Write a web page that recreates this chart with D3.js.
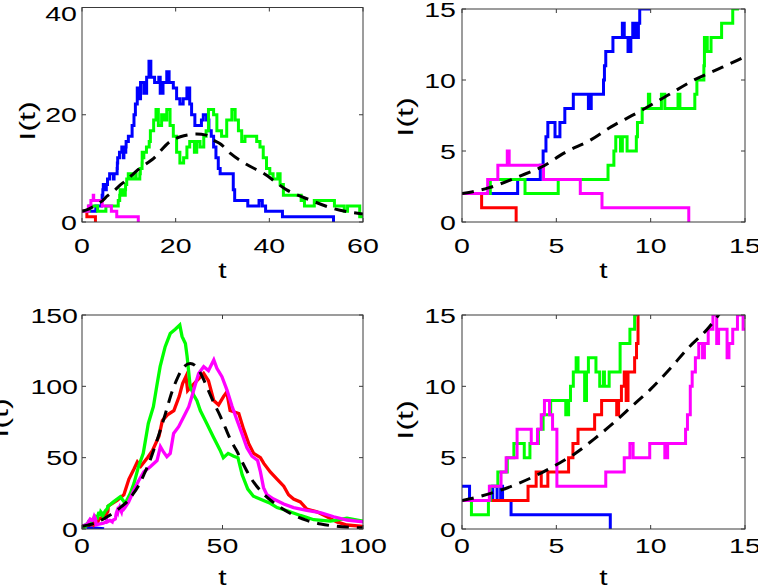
<!DOCTYPE html>
<html>
<head>
<meta charset="utf-8">
<script src="https://cdn.jsdelivr.net/npm/d3@7"></script>
<style>
  body { margin: 0; background: #fff; }
  svg { display: block; }
  text { font-family: "Liberation Sans", Arial, Helvetica, sans-serif; fill: #000; }
</style>
</head>
<body>
<svg id="chart" width="758" height="586"></svg>
<script>
// - - - - - - - - - -
// realisations of the small epidemic (top row, panel 2 is the zoom of panel 1)
// - - - - - - - - - -
const topBlue = [[0,2],[2.95,3],[4.15,4],[4.3,5],[4.45,6],[4.55,7],[4.93,6],[5.19,7],[5.45,8],[5.9,9],[6.7,8],[6.85,9],
  [7.5,10],[7.55,11],[7.62,12],[8.0,13],[8.5,14],[8.6,13],[8.8,12],[8.95,13],[9.05,14],[9.2,13],[9.35,14],[9.42,15],
  [9.9,16],[10.7,18],[11.1,20],[11.4,22],[11.8,25],[12.2,23],[12.5,26],[13.2,24],[13.8,27],[14.3,30],[14.7,27],
  [15.5,26],[16.4,27],[16.7,24],[17.3,26],[18.1,28],[18.6,26],[19.5,25],[20.2,23],[20.9,22],[21.6,23],[22.4,25],
  [23,22],[23.4,20],[24.1,18],[25.5,19],[25.9,20],[26.6,19],[27.1,17],[27.6,16],[28.1,14],[28.6,12],[29.1,10],
  [29.5,9],[32.3,6],[32.6,4],[35.4,3],[37.8,4],[38.5,3],[39.2,2],[42.8,1],[53.7,0]];
const topGreen = [[0,2],[1.5,3],[3.34,2],[5.1,3],[7.74,4],[8.05,5],[8.15,6],[8.4,5],[8.5,6],[8.75,5],[9.24,6],[9.3,7],
  [9.55,8],[9.88,9],[9.95,8],[10.57,9],[10.75,8],[11.45,9],[11.55,8],[12.34,9],[12.45,10],[12.82,11],[12.85,13],
  [13.0,12],[13.2,13],[13.76,14],[14.35,15],[14.6,17],[15.3,19],[15.8,21],[16.3,18],[17,20],[17.5,19],[18.1,21],
  [18.8,18],[19.5,16],[20.2,13],[20.9,11],[21.7,12],[22.4,14],[23,15],[24,13],[24.5,15],[25.2,14],[26,16],[26.5,17],
  [27,21],[28.1,20],[28.8,17],[29.8,16],[30.9,19],[32,21],[32.7,19],[33.4,17],[34.1,15],[34.8,16],[37.3,15],[38,14],
  [38.7,12],[39.4,10],[40.1,9],[40.8,8],[41.8,9],[42.3,7],[43,5],[46.8,4],[47.5,3],[49.6,4],[53.9,3],[56,2],[56.7,3],
  [59.3,1],[60,1]];
const topRed = [[0,2],[1.04,1],[2.87,0]];
const topMagenta = [[0,2],[1.36,3],[1.9,4],[2.4,5],[2.5,4],[4.32,3],[6.27,2],[7.42,1],[12.02,0]];
const topMean = [[0,2],[1.4,2.4],[3,3.2],[4.4,4],[5.4,4.85],[6.85,5.8],[7.9,6.7],[9.3,7.7],[10.75,8.8],[12.3,10],
  [13.8,10.9],[15,11.65],[18.8,15],[21,15.9],[24.5,16.4],[26.5,16.2],[28,15.3],[29.5,14.6],[31.7,12.8],[35,10.8],
  [38.7,9.1],[43.7,6],[48.7,4.1],[53.7,2.5],[60,1.5]];

// - - - - - - - - - -
// realisations of the large epidemic (bottom row, panel 4 is the zoom of panel 3)
// - - - - - - - - - -
const botBlue = [[0,3],[0.4,2],[1.63,3],[1.86,2],[2.05,3],[2.15,2],[2.6,1],[7.86,0]];
const botGreen = [[0,2],[0.5,1],[1.4,2],[1.5,3],[1.9,4],[2.4,5],[2.75,6],[3.3,5],[3.6,6],[4.05,7],[4.3,8],[4.7,9],
  [5.5,8],[5.65,9],[5.75,10],[5.9,11],[6.05,12],[6.15,11],[6.5,9],[6.6,11],[6.7,12],[7.1,11],[7.3,10],[7.5,11],
  [7.55,10],[7.8,11],[8.38,13],[8.9,14],[9.15,15],[9.22,16],[10,17],[11.2,19],[13.6,22.6],[15.4,18],[17.2,25],
  [18.5,32],[20.1,43.7],[21.8,53],[23.6,74],[25.4,85.7],[26.6,100],[27.8,113.8],[29.6,127.8],[31.4,137],[33.2,140],
  [34.8,143],[35.6,135],[36.8,130],[37.4,121],[38.5,100],[39.7,94],[40.9,90],[42.1,83],[44.4,74],[46.7,64.7],
  [49.1,55.4],[50.3,50],[52,53],[54,51],[55.5,50],[57,38],[59,28],[61,23],[64.6,20],[67,18],[69.4,15],[73,12.8],
  [77.7,9.5],[82.5,6.5],[88.4,5.5],[94.3,7.5],[100,5.5]];
const botRed = [[0,2],[3.5,3],[3.93,4],[4.2,3],[4.55,4],[5.65,5],[5.88,6],[6.15,7],[7.03,8],[7.4,9],[8.2,8],[8.3,9],
  [8.45,10],[8.6,11],[8.7,9],[8.8,11],[9.15,12],[9.25,13],[9.33,16],[10.1,17],[12.5,20],[14.9,24],[16.7,35],
  [18.5,42],[19.7,47],[20.9,44],[23.3,50],[25.1,55],[27.4,65],[28.6,76],[30.4,80],[32.7,83],[34.6,93],[35.8,102],
  [37,107],[37.6,97],[38.5,99],[40.9,104],[43.3,109],[45,104],[46.9,90],[48.6,87],[50.4,93],[51.5,96],[52.7,83],
  [55.8,81],[57.5,70],[59.3,60],[61.1,53],[63.5,50],[64.7,46],[67,40],[69.4,35],[71.8,30],[73.5,24],[75.3,21],
  [77.7,19],[80,14],[83.6,12],[87.2,8.5],[90.7,5],[94.3,2.8],[100,1.8]];
const botMagenta = [[0,2],[1.45,3],[2.07,4],[2.34,5],[2.92,7],[3.67,6],[4.0,7],[4.2,8],[4.37,9],[4.64,8],[4.8,7],
  [5.03,3],[7.62,4],[8.6,5],[8.9,6],[9.07,5],[9.95,6],[10.75,5],[10.9,6],[11.85,7],[11.95,8],[12.1,10],[12.2,11],
  [12.37,12],[12.55,13],[12.75,12],[12.85,13],[13.05,14],[13.3,15],[13.5,13],[13.6,14],[14.05,12],[14.15,13],
  [14.35,14],[14.6,15],[14.9,14],[15.3,15],[16.6,19],[18.4,27],[20.2,34],[22,40],[24.3,43.7],[26.7,48],[27.9,57.7],
  [29,54],[30.2,50.7],[31.4,53],[32.6,67],[34.4,71.7],[36.2,78.7],[38,85.7],[39.1,92.8],[40.3,101],[41.5,109],
  [43.3,113.8],[45,111],[46.9,118.5],[48,112.6],[49.8,106.8],[51.6,97.4],[53.4,86],[55.2,76],[56.9,67],[58.7,57],
  [60.5,51],[62.5,48],[63.5,40],[64.6,29],[65.8,24],[68.2,21],[71.8,17.5],[75.3,15],[80,13],[84.8,11.5],[89.6,8.6],
  [94.3,6.3],[100,5]];
const botMean = [[0,2],[1,2.3],[2,2.7],[3,3.2],[4,3.8],[5,4.5],[6,5.3],[7,6.3],[8,7.4],[9,8.6],[10,9.8],[11,11.2],
  [12,12.7],[13,14],[14,15.7],[16,19],[18,24],[20,30],[22,38],[24,47],[26,58],[28,70],[30,83],[32,96],[34,106],
  [36,113],[38.5,116],[41,113],[43,106],[45,97],[47,88],[49,80],[51,71],[53,62],[55,55],[57,47],[60,36],[63,28],
  [66,22],[70,16],[75,10],[80,6],[85,3.5],[90,2],[95,1.2],[100,0.8]];

// tick values
const ticksX1 = [0, 20, 40, 60], ticksY1 = [0, 20, 40];
const ticksZoom = [0, 5, 10, 15];
const ticksX3 = [0, 50, 100], ticksY3 = [0, 50, 100, 150];

// - - - - - - - - - -
const svg = d3.select('#chart');
const FS = 21, SX = 1.36;   // wide MATLAB-ish lettering

function panel(p) {
    const x = d3.scaleLinear().domain(p.xd).range([p.l, p.r]);
    const y = d3.scaleLinear().domain(p.yd).range([p.b, p.t]);
    const g = svg.append('g');

    g.append('clipPath').attr('id', p.id)
        .append('rect').attr('x', p.l).attr('y', p.t).attr('width', p.r - p.l).attr('height', p.b - p.t);

    const lines = g.append('g').attr('clip-path', 'url(#' + p.id + ')');
    p.series.forEach(s => {
        const line = d3.line().x(d => x(d[0])).y(d => y(d[1]))
            .curve(s.mean ? d3.curveMonotoneX : (p.smooth ? d3.curveLinear : d3.curveStepAfter));
        lines.append('path').datum(s.data)
            .attr('d', line)
            .attr('fill', 'none')
            .attr('stroke', s.color)
            .attr('stroke-width', p.smooth && !s.mean ? 3.3 : 3)
            .attr('stroke-linejoin', 'miter')
            .attr('stroke-dasharray', s.mean ? '12,8' : null);
    });

    // box
    g.append('rect').attr('x', p.l).attr('y', p.t).attr('width', p.r - p.l).attr('height', p.b - p.t)
        .attr('fill', 'none').attr('stroke', '#3a3a3a').attr('stroke-width', 1);

    // ticks inward on all four sides
    const tl = 4;
    p.tx.forEach(v => {
        g.append('line').attr('x1', x(v)).attr('x2', x(v)).attr('y1', p.b).attr('y2', p.b - tl).attr('stroke', '#3a3a3a');
        g.append('line').attr('x1', x(v)).attr('x2', x(v)).attr('y1', p.t).attr('y2', p.t + tl).attr('stroke', '#3a3a3a');
        g.append('text').attr('transform', 'translate(' + x(v) + ',' + (p.b + p.xtOff) + ') scale(' + SX + ',1)')
            .attr('text-anchor', 'middle').attr('font-size', FS).text(v);
    });
    p.ty.forEach(v => {
        g.append('line').attr('x1', p.l).attr('x2', p.l + tl).attr('y1', y(v)).attr('y2', y(v)).attr('stroke', '#3a3a3a');
        g.append('line').attr('x1', p.r).attr('x2', p.r - tl).attr('y1', y(v)).attr('y2', y(v)).attr('stroke', '#3a3a3a');
        const cy = Math.max(y(v), p.topLab);
        g.append('text').attr('transform', 'translate(' + (p.l - p.ytOff) + ',' + (cy + 7.5) + ') scale(' + SX + ',1)')
            .attr('text-anchor', 'end').attr('font-size', FS).text(v);
    });

    // axis labels
    g.append('text').attr('transform', 'translate(' + ((p.l + p.r) / 2) + ',' + (p.b + 56) + ') scale(' + SX + ',1)')
        .attr('text-anchor', 'middle').attr('font-size', 22).text('t');
    g.append('text').attr('transform', 'translate(' + p.ylx + ',' + p.yly + ') rotate(-90) scale(1.48,1)')
        .attr('text-anchor', 'middle').attr('font-size', 22).text('I(t)');
}

panel({ id: 'c1', l: 82, r: 363, t: 7.5, b: 222, xd: [0, 60], yd: [0, 40], tx: ticksX1, ty: ticksY1,
    xtOff: 31, ytOff: 5, ylx: 35, yly: 121, smooth: false, topLab: 13,
    series: [
        { data: topBlue, color: '#0000ff' }, { data: topRed, color: '#ff0000' },
        { data: topGreen, color: '#00ff00' }, { data: topMagenta, color: '#ff00ff' },
        { data: topMean, color: '#000', mean: true }
    ] });

panel({ id: 'c2', l: 462, r: 745, t: 9, b: 222, xd: [0, 15], yd: [0, 15], tx: ticksZoom, ty: ticksZoom,
    xtOff: 31, ytOff: 6, ylx: 413, yly: 117, smooth: false, topLab: 8.5,
    series: [
        { data: topBlue, color: '#0000ff' }, { data: topRed, color: '#ff0000' },
        { data: topGreen, color: '#00ff00' }, { data: topMagenta, color: '#ff00ff' },
        { data: topMean, color: '#000', mean: true }
    ] });

panel({ id: 'c3', l: 82, r: 363, t: 315, b: 529, xd: [0, 100], yd: [0, 150], tx: ticksX3, ty: ticksY3,
    xtOff: 24, ytOff: 4, ylx: 8, yly: 418, smooth: true, topLab: 0,
    series: [
        { data: botBlue, color: '#0000ff' }, { data: botRed, color: '#ff0000' },
        { data: botGreen, color: '#00ff00' }, { data: botMagenta, color: '#ff00ff' },
        { data: botMean, color: '#000', mean: true }
    ] });

panel({ id: 'c4', l: 462, r: 745, t: 315, b: 529, xd: [0, 15], yd: [0, 15], tx: ticksZoom, ty: ticksZoom,
    xtOff: 24, ytOff: 6, ylx: 413, yly: 420, smooth: false, topLab: 0,
    series: [
        { data: botBlue, color: '#0000ff' }, { data: botRed, color: '#ff0000' },
        { data: botGreen, color: '#00ff00' }, { data: botMagenta, color: '#ff00ff' },
        { data: botMean, color: '#000', mean: true }
    ] });
</script>
</body>
</html>
